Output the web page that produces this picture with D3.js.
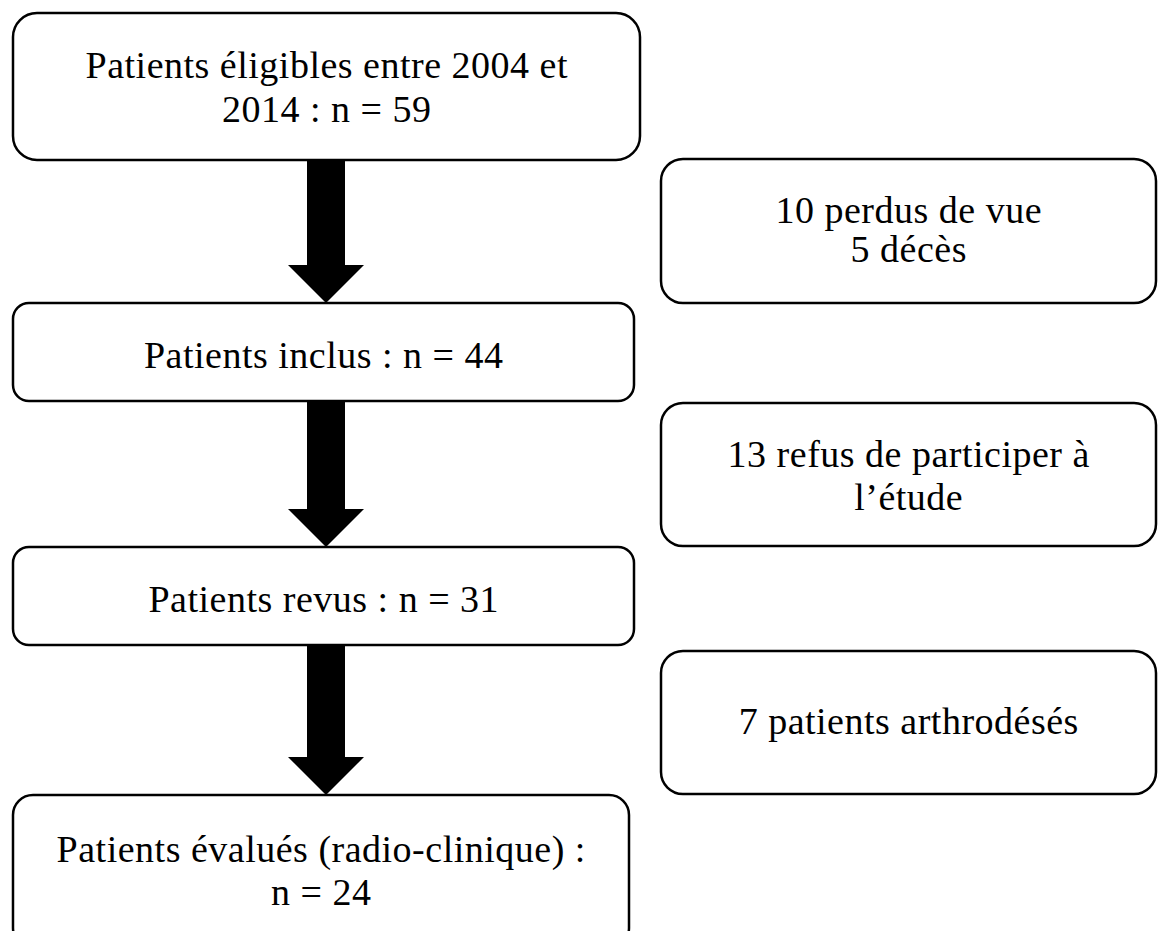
<!DOCTYPE html>
<html><head><meta charset="utf-8">
<script src="https://cdn.jsdelivr.net/npm/d3@7"></script>
<style>html,body{margin:0;padding:0;background:#fff;overflow:hidden}</style>
</head><body>
<svg id="c" width="1159" height="931"></svg>
<script>
// Data
const mainSteps = [
  ["Patients éligibles entre 2004 et", "2014 : n = 59"],
  ["Patients inclus : n = 44"],
  ["Patients revus : n = 31"],
  ["Patients évalués (radio-clinique) :", "n = 24"]
];
const mainCounts = [59, 44, 31, 24];
const exclusions = [
  ["10 perdus de vue", "5 décès"],
  ["13 refus de participer à", "l’étude"],
  ["7 patients arthrodésés"]
];
const excludedCounts = [15, 13, 7];

// Layout
const svg = d3.select("#c");
const FONT = "'Liberation Serif', 'DejaVu Serif', serif";
const FS = 38;
const mainBoxes = [
  {x0: 13, x1: 640, y0: 13, y1: 160, r: 24},
  {x0: 13, x1: 634, y0: 303, y1: 401, r: 16},
  {x0: 13, x1: 634, y0: 547, y1: 645, r: 16},
  {x0: 13, x1: 629, y0: 795, y1: 948, r: 20}
];
const sideBoxes = [
  {x0: 661, x1: 1156, y0: 159, y1: 303, r: 22},
  {x0: 661, x1: 1156, y0: 403, y1: 546, r: 22},
  {x0: 661, x1: 1156, y0: 651, y1: 794, r: 22}
];
const mainTextY = [[78, 122], [368], [612], [862, 905]];
const sideTextY = [[223, 262], [467, 510], [734]];

function box(b) {
  svg.append("rect").attr("x", b.x0).attr("y", b.y0)
    .attr("width", b.x1 - b.x0).attr("height", b.y1 - b.y0)
    .attr("rx", b.r).attr("ry", b.r)
    .attr("fill", "#fff").attr("stroke", "#000").attr("stroke-width", 2.5);
}
function label(lines, cx, ys) {
  lines.forEach((t, i) => {
    svg.append("text").attr("x", cx + 0.25).attr("y", ys[i])
      .attr("text-anchor", "middle")
      .attr("font-family", FONT).attr("font-size", FS)
      .attr("letter-spacing", "0.5px")
      .attr("fill", "#000").text(t);
  });
}

// arrows between main boxes
const ax = 326, shaftHalf = 19, headHalf = 38, headLen = 38;
for (let i = 0; i < mainBoxes.length - 1; i++) {
  const y0 = mainBoxes[i].y1, y1 = mainBoxes[i + 1].y0;
  const hy = y1 - headLen;
  const p = d3.path();
  p.moveTo(ax - shaftHalf, y0);
  p.lineTo(ax + shaftHalf, y0);
  p.lineTo(ax + shaftHalf, hy);
  p.lineTo(ax + headHalf, hy);
  p.lineTo(ax, y1);
  p.lineTo(ax - headHalf, hy);
  p.lineTo(ax - shaftHalf, hy);
  p.closePath();
  svg.append("path").attr("d", p.toString()).attr("fill", "#000");
}

mainBoxes.forEach((b, i) => { box(b); label(mainSteps[i], (b.x0 + b.x1) / 2, mainTextY[i]); });
sideBoxes.forEach((b, i) => { box(b); label(exclusions[i], (b.x0 + b.x1) / 2, sideTextY[i]); });
</script>
</body></html>
